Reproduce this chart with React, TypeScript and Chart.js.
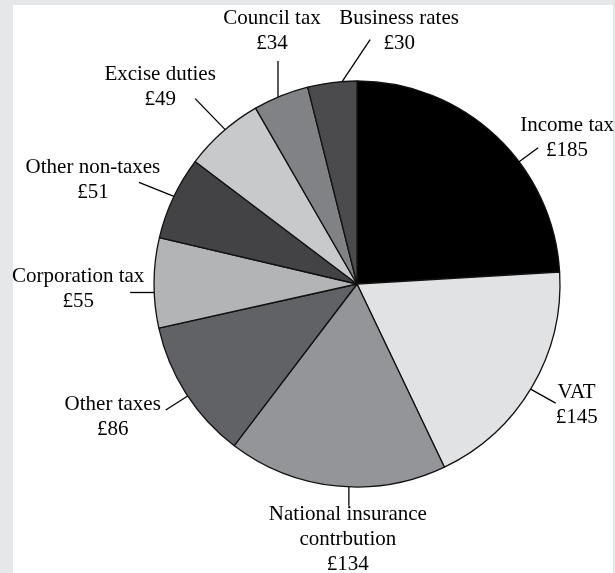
import React, { useEffect, useRef } from "react";
import { Chart, registerables } from "chart.js";

Chart.register(...registerables);

// ---- data ----
const categories: string[][] = [
  ["Income tax"],
  ["VAT"],
  ["National insurance", "contrbution"],
  ["Other taxes"],
  ["Corporation tax"],
  ["Other non-taxes"],
  ["Excise duties"],
  ["Council tax"],
  ["Business rates"],
];
const values: number[] = [185, 145, 134, 86, 55, 51, 49, 34, 30];
const sliceColors: string[] = [
  "#000000",
  "#e1e2e3",
  "#949598",
  "#616265",
  "#b2b4b6",
  "#434345",
  "#c8c9cb",
  "#808285",
  "#4b4b4d",
];

// ---- label layout (leader start angle on the rim, leader vector, text offset from leader end) ----
const labelAngles: number[] = [53, 121.2, 182.3, 236.5, 267.6, 295.6, 319.5, 337.1, 355.8];
const leaderVectors: [number, number][] = [
  [19, -14],
  [25, 14],
  [0, 19],
  [-22, 14],
  [-24, 0],
  [-35, -14],
  [-30, -31],
  [0, -36],
  [28, -42],
];
const textOffsets: [number, number][] = [
  [29, -10],
  [21, 2],
  [-1, 34],
  [-53, 7],
  [-52, -4],
  [-46, -2],
  [-35, -12],
  [-6, -30],
  [29, -9],
];

const FONT = '21px "Liberation Serif", "Times New Roman", serif';
const LINE_H = 25;

const labelPlugin = {
  id: "pieLabels",
  afterDatasetsDraw(chart: any) {
    const ctx: CanvasRenderingContext2D = chart.ctx;
    const meta = chart.getDatasetMeta(0);
    ctx.save();
    ctx.strokeStyle = "#000";
    ctx.lineWidth = 1.3;
    ctx.fillStyle = "#000";
    ctx.font = FONT;
    ctx.textAlign = "center";
    ctx.textBaseline = "middle";
    meta.data.forEach((arc: any, i: number) => {
      const { x, y, outerRadius } = arc.getProps(["x", "y", "outerRadius"], true);
      const a = (labelAngles[i] * Math.PI) / 180;
      const px = x + outerRadius * Math.sin(a);
      const py = y - outerRadius * Math.cos(a);
      const ex = px + leaderVectors[i][0];
      const ey = py + leaderVectors[i][1];
      ctx.beginPath();
      ctx.moveTo(px, py);
      ctx.lineTo(ex, ey);
      ctx.stroke();
      const lines = [...categories[i], "£" + values[i]];
      const cx = ex + textOffsets[i][0];
      const cy = ey + textOffsets[i][1];
      lines.forEach((t, k) => {
        ctx.fillText(t, cx, cy + (k - (lines.length - 1) / 2) * LINE_H);
      });
    });
    ctx.restore();
  },
};

export default function App() {
  const ref = useRef<HTMLCanvasElement | null>(null);

  useEffect(() => {
    if (!ref.current) return;
    const chart = new Chart(ref.current, {
      type: "pie",
      data: {
        labels: categories.map((c) => c.join(" ")),
        datasets: [
          {
            data: values,
            backgroundColor: sliceColors,
            borderColor: "#111111",
            borderWidth: 1.3,
            radius: 203,
          } as any,
        ],
      },
      options: {
        responsive: false,
        animation: false,
        devicePixelRatio: 1,
        events: [],
        layout: { padding: { left: 110, right: 11, top: 40, bottom: 45 } },
        plugins: {
          legend: { display: false },
          tooltip: { enabled: false },
        },
      },
      plugins: [labelPlugin],
    });
    return () => chart.destroy();
  }, []);

  return (
    <div
      style={{
        position: "fixed",
        left: 0,
        top: 0,
        width: 615,
        height: 573,
        background: "#e6e7e8",
        overflow: "hidden",
      }}
    >
      <div
        style={{
          position: "absolute",
          left: 13,
          top: 5,
          width: 600,
          height: 568,
          background: "#ffffff",
        }}
      />
      <canvas
        ref={ref}
        width={615}
        height={573}
        style={{ position: "absolute", left: 0, top: 0, display: "block" }}
      />
    </div>
  );
}
